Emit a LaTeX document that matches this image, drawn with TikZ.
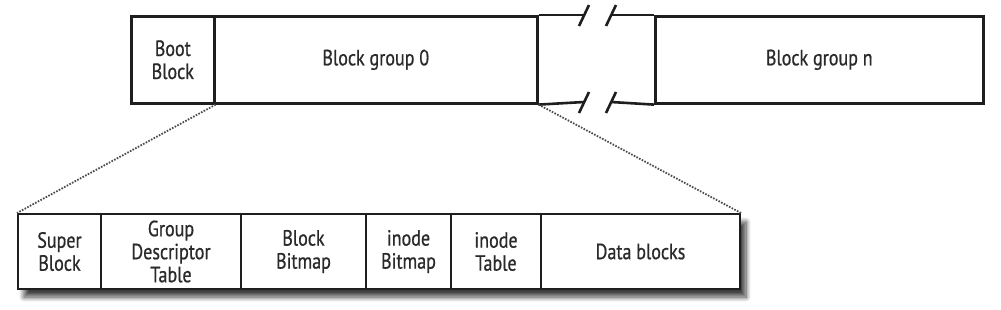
\documentclass[tikz,border=0pt]{standalone}
\usepackage{fontspec}
\setmainfont[FakeStretch=0.82,FakeBold=0.7]{PT Sans}
\usetikzlibrary{shadows.blur}
\definecolor{txt}{HTML}{2A2A2A}
\definecolor{ln}{HTML}{1E1E1E}
\begin{document}
\begin{tikzpicture}[x=1pt,y=-1pt,
  cell/.style={draw=ln,line width=2.6pt,inner sep=0pt,anchor=north west,
    align=center,text=txt,font=\fontsize{22}{23}\selectfont},
  lowcell/.style={draw=ln,line width=2pt,fill=white,inner sep=0pt,anchor=north west,
    align=center,text=txt,font=\fontsize{22}{23}\selectfont,minimum height=75pt},
  dots/.style={dash pattern=on 1.6pt off 1.4pt,line width=1.8pt,draw=ln!80},
  brk/.style={line width=2.6pt,draw=ln}]
\useasboundingbox (0,0) rectangle (1001,309);
% top row
\node[cell,minimum width=83pt,minimum height=87pt] (boot) at (130,15) {Boot\\Block};
\node[cell,minimum width=323pt,minimum height=87pt] (bg0) at (213,15) {Block group 0};
\node[cell,minimum width=328pt,minimum height=87pt] (bgn) at (654,15) {Block group n};
\coordinate (gtl) at (bg0.north east);
\coordinate (gbl) at (bg0.south east);
\coordinate (gtr) at (bgn.north west);
\coordinate (gbr) at (bgn.south west);
\coordinate (t1) at (584,15); \coordinate (t2) at (611,15);
\coordinate (b1) at (584,102); \coordinate (b2) at (611,102);
\draw[brk] (gtl) -- (t1) (t2) -- (gtr);
\draw[brk] (gbl) -- (b1) (b2) -- (gbr);
\draw[brk] (579,26) -- (589,5);
\draw[brk] (606,26) -- (616,5);
\draw[brk] (579,113) -- (589,92);
\draw[brk] (606,113) -- (616,92);
% bottom row
\node[lowcell,minimum width=722pt,blur shadow={shadow xshift=6pt,shadow yshift=-8pt,shadow blur steps=10,shadow blur radius=5pt,shadow opacity=75}] (row) at (17,213) {};
\node[lowcell,minimum width=83pt] (sb) at (17,213) {Super\\Block};
\node[lowcell,minimum width=140pt] (gdt) at (100,213) {Group\\Descriptor\\Table};
\node[lowcell,minimum width=125pt] (bb) at (240,213) {Block\\Bitmap};
\node[lowcell,minimum width=85pt] (ib) at (365,213) {inode\\Bitmap};
\node[lowcell,minimum width=90pt] (it) at (450,213) {inode\\Table};
\node[lowcell,minimum width=199pt] (db) at (540,213) {Data blocks};
% dotted connectors
\draw[dots] (boot.south east) -- (sb.north west);
\draw[dots] (bg0.south east) -- (db.north east);
\end{tikzpicture}
\end{document}
